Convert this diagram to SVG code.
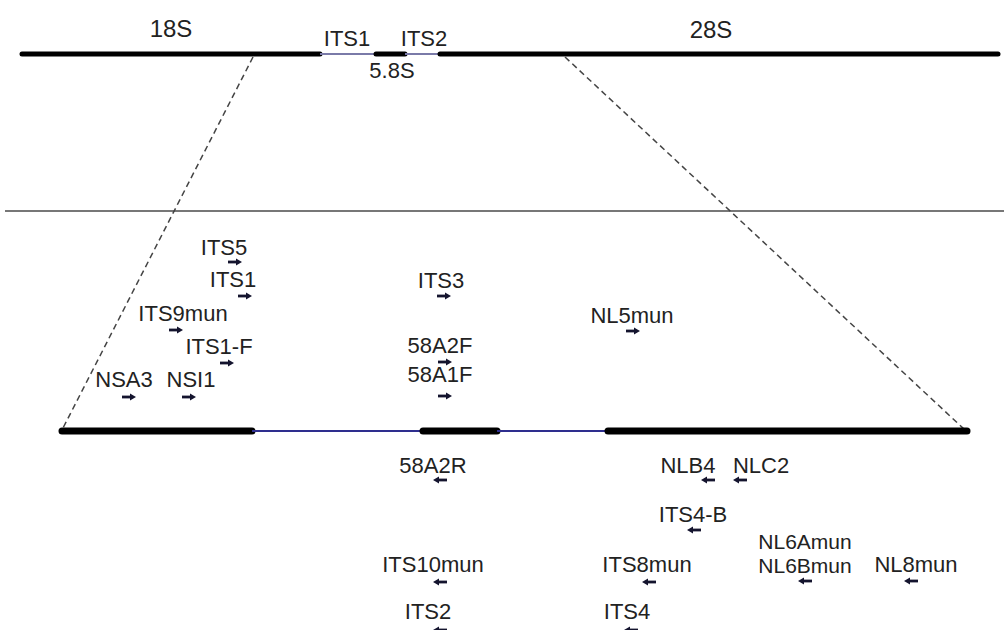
<svg xmlns="http://www.w3.org/2000/svg" xmlns:xlink="http://www.w3.org/1999/xlink" width="1004" height="630" viewBox="0 0 1004 630">
<style>
text{font-family:"Liberation Sans",Arial,sans-serif;font-size:22px;fill:#222;text-anchor:middle}
.big{font-size:24px}
.tight{font-size:21px}
.thick{stroke:#000;stroke-linecap:round}
.thinTop{stroke:#7a7aa8;stroke-width:2}
.thinBot{stroke:#2e2e8e;stroke-width:2.2}
.dash{stroke:#444;stroke-width:1.5;stroke-dasharray:6 4;fill:none}
</style>
<defs>
<g id="fwd"><path d="M-7,0 H2" stroke="#14142e" stroke-width="2.8"/><path d="M1,-3.4 L7,0 L1,3.4 Z" fill="#14142e"/></g>
<g id="rev"><use xlink:href="#fwd" transform="scale(-1,1)"/></g>
</defs>
<rect width="1004" height="630" fill="#fff"/>

<g id="top-gene">
<line class="thick" x1="22" y1="54" x2="320" y2="54" stroke-width="5"/>
<line class="thinTop" x1="320" y1="54" x2="376" y2="54"/>
<line class="thick" x1="376" y1="54" x2="405" y2="54" stroke-width="5"/>
<line class="thinTop" x1="405" y1="54" x2="440" y2="54"/>
<line class="thick" x1="440" y1="54" x2="998" y2="54" stroke-width="5"/>
<text class="big" x="171" y="37">18S</text>
<text x="347" y="46">ITS1</text>
<text x="424" y="46">ITS2</text>
<text x="392" y="78">5.8S</text>
<text class="big" x="711" y="38">28S</text>
</g>

<line id="divider" x1="5" y1="211" x2="1004" y2="211" stroke="#777" stroke-width="2"/>

<g id="connectors">
<path class="dash" d="M253,57 L62,430"/>
<path class="dash" d="M565,57 L965,430"/>
</g>

<g id="bottom-gene">
<line class="thick" x1="62" y1="431" x2="252" y2="431" stroke-width="7" stroke-linecap="butt"/>
<line class="thinBot" x1="252" y1="431" x2="423" y2="431"/>
<line class="thick" x1="423" y1="431" x2="497" y2="431" stroke-width="7" stroke-linecap="butt"/>
<line class="thinBot" x1="497" y1="431" x2="608" y2="431"/>
<line class="thick" x1="608" y1="431" x2="967" y2="431" stroke-width="7" stroke-linecap="butt"/>
</g>

<g id="ITS5"><text x="224" y="255">ITS5</text><use xlink:href="#fwd" x="235" y="262"/></g>
<g id="ITS1"><text x="233" y="287">ITS1</text><use xlink:href="#fwd" x="245" y="296"/></g>
<g id="ITS9mun"><text x="183" y="321">ITS9mun</text><use xlink:href="#fwd" x="176" y="330"/></g>
<g id="ITS1-F"><text x="219" y="354">ITS1-F</text><use xlink:href="#fwd" x="227" y="363"/></g>
<g id="NSA3"><text x="124" y="387">NSA3</text><use xlink:href="#fwd" x="129" y="397"/></g>
<g id="NSI1"><text x="191" y="387">NSI1</text><use xlink:href="#fwd" x="189" y="397"/></g>
<g id="ITS3"><text x="441" y="288">ITS3</text><use xlink:href="#fwd" x="444" y="296"/></g>
<g id="NL5mun"><text x="632" y="323">NL5mun</text><use xlink:href="#fwd" x="633" y="331"/></g>
<g id="58A2F"><text x="440" y="353">58A2F</text><use xlink:href="#fwd" x="445" y="362"/></g>
<g id="58A1F"><text x="440" y="382">58A1F</text><use xlink:href="#fwd" x="445" y="396"/></g>

<g id="58A2R"><text x="433" y="473">58A2R</text><use xlink:href="#rev" x="440" y="480"/></g>
<g id="NLB4"><text x="688" y="473">NLB4</text><use xlink:href="#rev" x="708" y="480"/></g>
<g id="NLC2"><text x="761" y="473">NLC2</text><use xlink:href="#rev" x="740" y="480"/></g>
<g id="ITS4-B"><text x="693" y="522">ITS4-B</text><use xlink:href="#rev" x="694" y="530"/></g>
<g id="ITS10mun"><text x="433" y="572">ITS10mun</text><use xlink:href="#rev" x="440" y="582"/></g>
<g id="ITS8mun"><text x="647" y="572">ITS8mun</text><use xlink:href="#rev" x="649" y="582"/></g>
<g id="NL6Amun-NL6Bmun"><text class="tight" x="805" y="549">NL6Amun</text><text class="tight" x="805" y="573">NL6Bmun</text><use xlink:href="#rev" x="805" y="581"/></g>
<g id="NL8mun"><text x="916" y="572">NL8mun</text><use xlink:href="#rev" x="911" y="581"/></g>
<g id="ITS2"><text x="428" y="619">ITS2</text><use xlink:href="#rev" x="440" y="630"/></g>
<g id="ITS4"><text x="627" y="619">ITS4</text><use xlink:href="#rev" x="631" y="630"/></g>
</svg>
